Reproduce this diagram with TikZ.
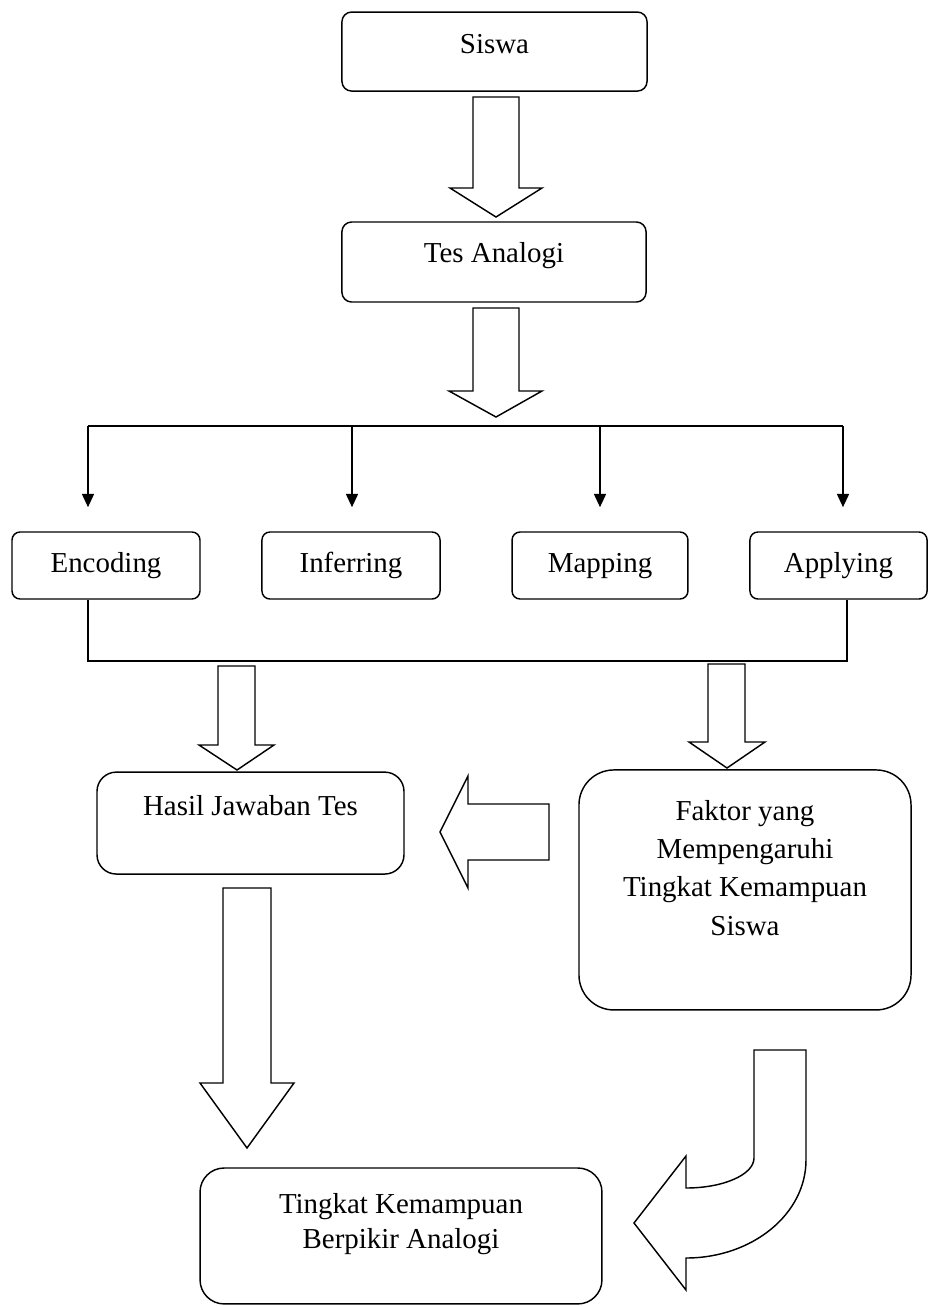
\documentclass[tikz,border=0pt]{standalone}
\usepackage{fontspec}
\setmainfont{Liberation Serif}
\usetikzlibrary{arrows.meta}

\begin{document}
\begin{tikzpicture}[x=0.415pt, y=-0.415pt, line width=0.6pt,
	box/.style={draw, rounded corners=#1, inner sep=0pt, align=center, anchor=base, font=\fontsize{12}{15.9}\selectfont},
	blok/.style={draw, line join=miter, fill=white},
	panah/.style={-{Triangle[length=5.5pt,width=5pt]}, shorten >=10pt}]
	
	\useasboundingbox (0,0) rectangle (928,1306);
	
	% kotak utama
	\node[box=4pt] at (494.5,53) [minimum width=126.6pt, text height=17pt, text depth=15.8pt] (siswa) {Siswa};
	\node[box=4pt] at (494,262) [minimum width=126.2pt, text height=16.6pt, text depth=16.6pt] (tes) {Tes Analogi};
	
	\node[box=3.3pt] at (106,572) [minimum width=78pt, text height=16.6pt, text depth=11.2pt] (enc) {Encoding};
	\node[box=3.3pt] at (351,572) [minimum width=73.9pt, text height=16.6pt, text depth=11.2pt] (inf) {Inferring};
	\node[box=3.3pt] at (600,572) [minimum width=73pt, text height=16.6pt, text depth=11.2pt] (map) {Mapping};
	\node[box=3.3pt] at (838.5,572) [minimum width=73.5pt, text height=16.6pt, text depth=11.2pt] (app) {Applying};
	
	\node[box=8pt] at (250.5,815) [minimum width=127.4pt, text height=17.8pt, text depth=24.5pt] (hasil) {Hasil Jawaban Tes};
	\node[box=14.5pt] at (745,935) [minimum width=137.8pt, text height=68.5pt, text depth=31.1pt] (faktor) {Faktor yang\\Mempengaruhi\\Tingkat Kemampuan\\Siswa};
	\node[box=10pt] at (401,1248) [minimum width=166.8pt, text height=33.2pt, text depth=23.2pt, font=\fontsize{12}{14.5}\selectfont] (tingkat) {Tingkat Kemampuan\\Berpikir Analogi};
	
	% garis cabang
	\coordinate (b1) at (88,426);
	\coordinate (b2) at (352,426);
	\coordinate (b3) at (600,426);
	\coordinate (b4) at (843,426);
	\draw (b1) -- (b4);
	\draw[panah] (b1) -- (b1 |- enc.north);
	\draw[panah] (b2) -- (b2 |- inf.north);
	\draw[panah] (b3) -- (b3 |- map.north);
	\draw[panah] (b4) -- (b4 |- app.north);
	
	\coordinate (g1) at (88,661);
	\coordinate (g2) at (847,661);
	\draw (g1 |- enc.south) -- (g1) -- (g2) -- (g2 |- app.south);
	
	% panah blok
	\draw[blok] (473,97) -- (519,97) -- (519,188) -- (542,188) -- (496,217) -- (450,188) -- (473,188) -- cycle;
	\draw[blok] (473,308) -- (519,308) -- (519,391) -- (542,391) -- (496,417) -- (449,391) -- (473,391) -- cycle;
	\draw[blok] (218,666) -- (255,666) -- (255,745) -- (274,745) -- (237,770) -- (199,745) -- (218,745) -- cycle;
	\draw[blok] (708,664) -- (745,664) -- (745,742) -- (765,742) -- (727,768) -- (689,742) -- (708,742) -- cycle;
	\draw[blok] (549,804) -- (549,860) -- (468,860) -- (468,888) -- (440,832) -- (468,776) -- (468,804) -- cycle;
	\draw[blok] (223,888) -- (271,888) -- (271,1083) -- (294,1083) -- (247,1148) -- (200,1083) -- (223,1083) -- cycle;
	
	% panah lengkung
	\draw[blok] (754,1050) -- (806,1050) -- (806,1160) arc[start angle=0, end angle=90, x radius=120, y radius=98] -- (686,1290) -- (634,1223) -- (686,1156) -- (686,1188) arc[start angle=90, end angle=0, x radius=68, y radius=30] -- cycle;
	
\end{tikzpicture}
\end{document}
